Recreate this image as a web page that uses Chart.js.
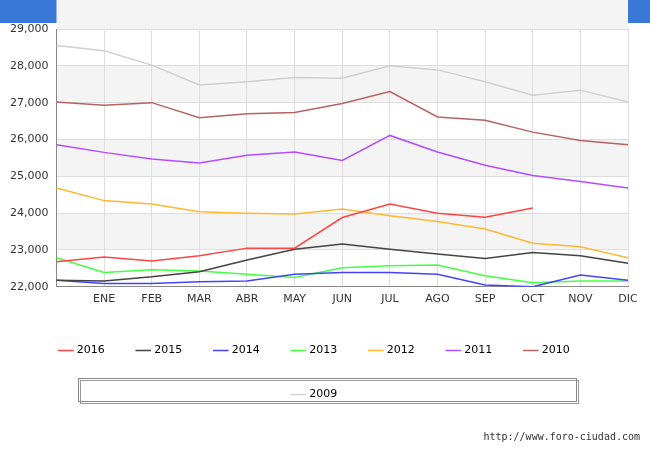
<!DOCTYPE html><html><head><script src="https://cdn.jsdelivr.net/npm/chart.js"></script>
<style>body{margin:0}</style></head><body><canvas id="c" width="650" height="450" style="width:650px;height:450px"></canvas>
<script>
const labels=["","ENE","FEB","MAR","ABR","MAY","JUN","JUL","AGO","SEP","OCT","NOV","DIC"];
const s2016=[22680,22810,22700,22840,23050,23050,23880,24250,24000,23890,24140];
const s2015=[22180,22160,22270,22410,22730,23020,23160,23020,22890,22770,22930,22840,22640];
const s2014=[22180,22090,22090,22140,22160,22340,22390,22390,22340,22050,22000,22320,22180];
const s2013=[22790,22390,22460,22430,22340,22250,22520,22570,22590,22300,22110,22160,22160];
const s2012=[24680,24340,24250,24040,24000,23980,24110,23930,23770,23570,23180,23090,22790];
const s2011=[25860,25650,25470,25360,25570,25660,25430,26110,25660,25300,25020,24860,24680];
const s2010=[27020,26930,27000,26590,26700,26730,26980,27300,26610,26520,26200,25970,25860];
const s2009=[28550,28410,28020,27480,27570,27680,27660,28000,27890,27570,27200,27340,27020];
const series=[["2016",s2016,"#ff4444"],["2015",s2015,"#444444"],["2014",s2014,"#4444ff"],["2013",s2013,"#44ff44"],["2012",s2012,"#ffb833"],["2011",s2011,"#b44dff"],["2010",s2010,"#b86262"],["2009",s2009,"#d0d0d0"]];
const deco={id:'deco',beforeDraw(ch){const c=ch.ctx,a=ch.chartArea,y=ch.scales.y;c.save();c.fillStyle='#fff';c.fillRect(0,0,650,450);
c.fillStyle='#3a78d8';c.fillRect(0,0,650,23);c.fillStyle='#fff';c.font='13px "DejaVu Sans"';c.textAlign='center';c.textBaseline='middle';c.fillText('Afiliados en Talavera de la Reina a 31/10/2016',325,12);
c.fillStyle='#f4f4f4';for(let v=22000;v<29000;v+=2000){const t=y.getPixelForValue(v+2000),b=y.getPixelForValue(v+1000);c.fillRect(a.left,t,a.right-a.left,b-t);}
c.restore();},
afterDraw(ch){const c=ch.ctx;c.save();c.strokeStyle='#888';c.lineWidth=1;c.shadowColor='#999';c.shadowOffsetX=2;c.shadowOffsetY=2;c.strokeRect(78.5,378.5,498,23);c.restore();
c.save();c.fillStyle='#333';c.font='10px "DejaVu Sans Mono"';c.textAlign='right';c.fillText('http://www.foro-ciudad.com',640,437);c.restore();}};
new Chart(document.getElementById('c'),{type:'line',data:{labels,datasets:series.map(s=>({label:s[0],data:s[1],borderColor:s[2],backgroundColor:s[2],borderWidth:1.5,pointRadius:0,tension:0}))},
options:{responsive:false,animation:false,devicePixelRatio:1,layout:{padding:{top:29,right:22,left:2,bottom:40}},
plugins:{legend:{position:'bottom',labels:{usePointStyle:true,pointStyle:'line',boxWidth:20,padding:33,color:'#000',font:{size:11,family:'DejaVu Sans'}}}},
scales:{x:{offset:false,grid:{color:'#dddddd',drawTicks:false},border:{color:'#888'},ticks:{color:'#333',padding:6,font:{size:11,family:'DejaVu Sans'}}},
y:{min:22000,max:29000,grid:{color:'#dddddd',drawTicks:false},border:{color:'#888'},ticks:{stepSize:1000,color:'#333',padding:8,font:{size:11,family:'DejaVu Sans'}}}}},plugins:[deco]});
</script></body></html>
